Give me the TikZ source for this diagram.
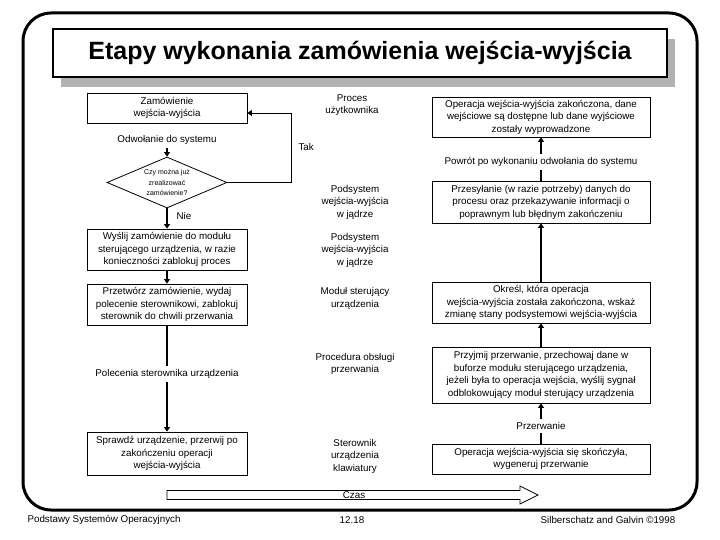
\documentclass[tikz,border=0pt]{standalone}
\usepackage{fontspec}
\setmainfont{Liberation Sans}
\usetikzlibrary{arrows.meta, shapes.geometric, shadows}

\begin{document}
\begin{tikzpicture}[x=1pt, y=-1pt]
    \tikzset{
        etap/.style={
                draw, line width=0.8pt, align=center, inner sep=1.5pt,
                font=\fontsize{9.8}{12.5}\selectfont
            },
        lewy/.style={etap, minimum width=160pt},
        prawy/.style={etap, minimum width=218pt},
        opis/.style={align=center, font=\fontsize{9.8}{12.5}\selectfont},
        strzalka/.style={line width=1.4pt, -{Triangle[length=4.5pt, width=6pt]}},
        linia/.style={line width=1.4pt}
    }
    \useasboundingbox (0,0) rectangle (720,540);

    % Frame and title
    \draw[line width=3pt, rounded corners=28pt] (23,13) rectangle (697,510);
    \node[draw, line width=1.2pt, fill=white, minimum width=614pt, minimum height=48pt,
        drop shadow={shadow xshift=8pt, shadow yshift=-10pt, fill=gray!60, opacity=1},
        font=\fontsize{25}{29}\selectfont\bfseries] (tytul) at (360,53)
        {Etapy wykonania zamówienia wejścia-wyjścia};

    % Left column
    \node[lewy, minimum height=30pt] (zamowienie) at (167,108) {Zamówienie\\wejścia-wyjścia};
    \node[opis] (odwolanie) at (167,140) {Odwołanie do systemu};
    \node[draw, diamond, aspect=2.4, inner sep=0pt, line width=0.8pt, minimum width=120pt,
        minimum height=51pt, align=center, font=\fontsize{7}{10.5}\selectfont]
        (pytanie) at (167,182.5) {Czy można już\\zrealizować\\zamówienie?};
    \node[opis, anchor=west] (nie) at (173,216) {Nie};
    \coordinate (zakret) at (291,113);
    \node[opis, anchor=west] (tak) at (295,147) {Tak};
    \node[lewy, minimum height=41pt] (wyslij) at (167,249.5)
        {Wyślij zamówienie do modułu\\sterującego urządzenia, w razie\\konieczności zablokuj proces};
    \node[lewy, minimum height=41pt] (przetworz) at (167,304.5)
        {Przetwórz zamówienie, wydaj\\polecenie sterownikowi, zablokuj\\sterownik do chwili przerwania};
    \node[opis] (polecenia) at (167,374) {Polecenia sterownika urządzenia};
    \node[lewy, minimum height=43pt] (sprawdz) at (167,453.5)
        {Sprawdź urządzenie, przerwij po\\zakończeniu operacji\\wejścia-wyjścia};

    % Middle column (layers)
    \node[opis] (proces) at (352,105) {Proces\\użytkownika};
    \node[opis] (podsystem) at (355,202) {Podsystem\\wejścia-wyjścia\\w jądrze};
    \node[opis] (podsystem2) at (355,250) {Podsystem\\wejścia-wyjścia\\w jądrze};
    \node[opis] (modul) at (355,298.5) {Moduł sterujący\\urządzenia};
    \node[opis] (procedura) at (355,364) {Procedura obsługi\\przerwania};
    \node[opis] (sterownik) at (355,456) {Sterownik\\urządzenia\\klawiatury};

    % Right column
    \node[prawy, minimum height=40pt] (zakonczona) at (541,117)
        {Operacja wejścia-wyjścia zakończona, dane\\wejściowe są dostępne lub dane wyjściowe\\zostały wyprowadzone};
    \node[opis] (powrot) at (541,162) {Powrót po wykonaniu odwołania do systemu};
    \node[prawy, minimum height=42pt] (przesylanie) at (541,202)
        {Przesyłanie (w razie potrzeby) danych do\\procesu oraz przekazywanie informacji o\\poprawnym lub błędnym zakończeniu};
    \node[prawy, minimum height=41pt] (okresl) at (541,302.5)
        {Określ, która operacja\\wejścia-wyjścia została zakończona, wskaż\\zmianę stany podsystemowi wejścia-wyjścia};
    \node[prawy, minimum height=56pt] (przyjmij) at (541,375)
        {Przyjmij przerwanie, przechowaj dane w\\buforze modułu sterującego urządzenia,\\jeżeli była to operacja wejścia, wyślij sygnał\\odblokowujący moduł sterujący urządzenia};
    \node[opis] (przerwanie) at (541,426) {Przerwanie};
    \node[prawy, minimum height=30pt] (skonczyla) at (541,459)
        {Operacja wejścia-wyjścia się skończyła,\\wygeneruj przerwanie};

    % Left flow
    \draw[strzalka] (odwolanie) -- (pytanie);
    \draw[strzalka, line width=0.9pt] (pytanie.east) -| (zakret) -- (zakret -| zamowienie.east);
    \draw[strzalka] (pytanie) -- (wyslij);
    \draw[strzalka] (wyslij) -- (przetworz);
    \draw[linia] (przetworz) -- (polecenia);
    \draw[strzalka] (polecenia) -- (sprawdz);

    % Right flow
    \draw[linia] (skonczyla) -- (przerwanie);
    \draw[strzalka] (przerwanie) -- (przyjmij);
    \draw[strzalka] (przyjmij) -- (okresl);
    \draw[strzalka] (okresl) -- (przesylanie);
    \draw[linia] (przesylanie) -- (powrot);
    \draw[strzalka] (powrot) -- (zakonczona);

    % Time arrow
    \draw[line width=0.8pt] (167,490.5) -- (520,490.5) -- (520,486) -- (538,495)
        -- (520,504) -- (520,499.5) -- (167,499.5) -- cycle;
    \node[opis, inner sep=0pt] (czas) at (354,495) {Czas};

    % Footer
    \node[opis, anchor=west] (przedmiot) at (24,520) {Podstawy Systemów Operacyjnych};
    \node[opis] (strona) at (352,520) {12.18};
    \node[opis] (autorzy) at (608,520) {Silberschatz and Galvin ©1998};
\end{tikzpicture}
\end{document}
